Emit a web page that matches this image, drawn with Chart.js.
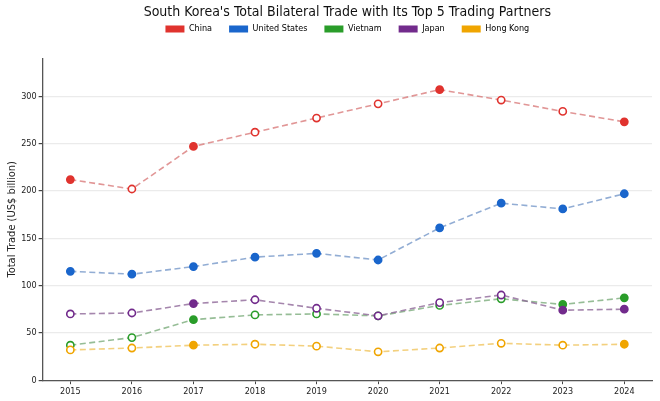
<!DOCTYPE html>
<html>
<head>
<meta charset="utf-8">
<script src="https://cdn.jsdelivr.net/npm/chart.js@4.4.1/dist/chart.umd.min.js"></script>
<style>
  html, body { margin: 0; padding: 0; background: #fff; }
  #wrap { width: 660px; height: 401px; }
</style>
</head>
<body>
<div id="wrap"><canvas id="tradeChart"></canvas></div>
<script>
const years = [2015, 2016, 2017, 2018, 2019, 2020, 2021, 2022, 2023, 2024];

const china    = [212, 202, 247, 262, 277, 292, 307, 296, 284, 273];
const usa      = [115, 112, 120, 130, 134, 127, 161, 187, 181, 197];
const vietnam  = [37, 45, 64, 69, 70, 68, 79, 86, 80, 87];
const japan    = [70, 71, 81, 85, 76, 68, 82, 90, 74, 75];
const hongKong = [32, 34, 37, 38, 36, 30, 34, 39, 37, 38];

// which points are drawn as solid dots (the rest are hollow)
const chinaFilled    = [1, 0, 1, 0, 0, 0, 1, 0, 0, 1];
const usaFilled      = [1, 1, 1, 1, 1, 1, 1, 1, 1, 1];
const vietnamFilled  = [0, 0, 1, 0, 0, 0, 0, 0, 1, 1];
const japanFilled    = [0, 0, 1, 0, 0, 0, 0, 0, 1, 1];
const hongKongFilled = [0, 0, 1, 0, 0, 0, 0, 0, 0, 1];

const FONT = '"DejaVu Sans Condensed", "DejaVu Sans", sans-serif';

function series(label, values, filled, color, lineColor, order) {
  return {
    label: label,
    data: values.map((v, i) => ({ x: years[i], y: v })),
    borderColor: lineColor,
    backgroundColor: color,
    borderWidth: 1.6,
    borderDash: [6, 3.5],
    pointRadius: 3.6,
    pointHoverRadius: 3.6,
    pointBorderWidth: 1.6,
    pointBorderColor: color,
    pointBackgroundColor: filled.map(f => f ? color : '#ffffff'),
    legendColor: color,
    order: order
  };
}

// a bit of room between the legend and the plot
const legendGap = {
  id: 'legendGap',
  beforeInit(chart) {
    const fit = chart.legend.fit;
    chart.legend.fit = function () {
      fit.bind(chart.legend)();
      this.height += 15;
    };
  }
};

const ctx = document.getElementById('tradeChart');

new Chart(ctx, {
  type: 'line',
  data: {
    datasets: [
      series('China', china, chinaFilled, '#e0332e', 'rgba(214,110,110,0.72)', 5),
      series('United States', usa, usaFilled, '#1a66cc', 'rgba(115,150,200,0.78)', 4),
      series('Vietnam', vietnam, vietnamFilled, '#2a9d2a', 'rgba(120,170,120,0.78)', 3),
      series('Japan', japan, japanFilled, '#722b8c', 'rgba(140,100,150,0.78)', 2),
      series('Hong Kong', hongKong, hongKongFilled, '#f0a500', 'rgba(240,195,90,0.78)', 1)
    ]
  },
  plugins: [legendGap],
  options: {
    responsive: true,
    maintainAspectRatio: false,
    animation: false,
    layout: { padding: { left: 5, right: 8, top: 2, bottom: 2 } },
    plugins: {
      title: {
        display: true,
        text: "South Korea's Total Bilateral Trade with Its Top 5 Trading Partners",
        color: '#111',
        font: { family: FONT, size: 14, weight: 'normal' },
        padding: { top: 1.6, bottom: -13 },
        fullSize: false
      },
      legend: {
        fullSize: false,
        labels: {
          boxWidth: 19,
          boxHeight: 7,
          padding: 17,
          color: '#222',
          font: { family: FONT, size: 9 },
          sort: (a, b) => a.datasetIndex - b.datasetIndex,
          generateLabels: (chart) => chart.data.datasets.map((ds, i) => ({
            text: ds.label,
            fillStyle: ds.legendColor,
            strokeStyle: ds.legendColor,
            lineWidth: 0,
            hidden: !chart.isDatasetVisible(i),
            datasetIndex: i
          }))
        }
      },
      tooltip: { enabled: false }
    },
    scales: {
      x: {
        type: 'linear',
        min: 2014.55,
        max: 2024.45,
        afterBuildTicks: (scale) => {
          scale.ticks = years.map(y => ({ value: y }));
        },
        ticks: {
          callback: (v) => String(v),
          color: '#222',
          font: { family: FONT, size: 9 },
          padding: 2,
          maxRotation: 0
        },
        grid: {
          drawOnChartArea: false,
          drawTicks: true,
          tickLength: 4,
          tickColor: '#444'
        },
        border: { color: '#555', width: 1.3 }
      },
      y: {
        min: 0,
        max: 340,
        afterBuildTicks: (scale) => {
          scale.ticks = scale.ticks.filter(t => t.value % 50 === 0);
        },
        ticks: {
          stepSize: 50,
          color: '#222',
          font: { family: FONT, size: 9 },
          padding: 2
        },
        grid: {
          color: '#ebebeb',
          lineWidth: 1.2,
          tickLength: 4,
          tickColor: '#444'
        },
        border: { color: '#555', width: 1.3 },
        title: {
          display: true,
          text: 'Total Trade (US$ billion)',
          color: '#222',
          font: { family: FONT, size: 11 },
          padding: { top: 1, bottom: 0 }
        }
      }
    }
  }
});
</script>
</body>
</html>
